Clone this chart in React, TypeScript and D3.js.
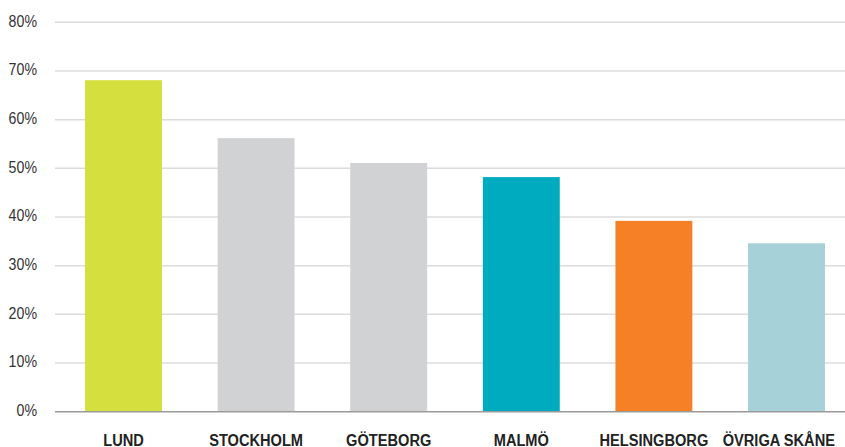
import React from "react";
import * as d3 from "d3";

const categories = ["LUND", "STOCKHOLM", "GÖTEBORG", "MALMÖ", "HELSINGBORG", "ÖVRIGA SKÅNE"];
const values = [68.1, 56.2, 51.1, 48.2, 39.2, 34.6];
const colors = ["#d5df3d", "#d1d2d4", "#d1d2d4", "#00aabf", "#f58026", "#a7d1d8"];
const yTicks = [0, 10, 20, 30, 40, 50, 60, 70, 80];

const W = 845;
const H = 447;

export default function App() {
  const y = d3.scaleLinear().domain([0, 80]).range([411.7, 22.3]);
  const x = d3
    .scaleBand<string>()
    .domain(categories)
    .range([57.2, 57.2 + 132.6 * 6])
    .paddingInner(0.42)
    .paddingOuter(0.21);

  return (
    <svg
      width={W}
      height={H}
      style={{ position: "absolute", left: 0, top: 0, background: "#fff" }}
    >
      {yTicks.map((t) =>
        t === 0 ? null : (
          <line key={"g" + t} x1={55} x2={845} y1={y(t)} y2={y(t)} stroke="#dcdcdc" strokeWidth={1.5} />
        )
      )}
      {categories.map((c, i) => (
        <rect
          key={c}
          x={x(c)}
          y={y(values[i])}
          width={x.bandwidth()}
          height={y(0) - y(values[i])}
          fill={colors[i]}
        />
      ))}
      <line x1={55} x2={845} y1={y(0)} y2={y(0)} stroke="#9a9a9a" strokeWidth={1.5} />
      {yTicks.map((t) => (
        <text
          key={"t" + t}
          transform={`translate(37,${y(t)}) scale(0.86,1)`}
          textAnchor="end"
          dominantBaseline="middle"
          fontFamily="Liberation Sans, Arial, sans-serif"
          fontSize={16.5}
          fill="#333"
        >
          {t}%
        </text>
      ))}
      {categories.map((c, i) => {
        const last = i === categories.length - 1;
        const lx = last
          ? (x(c) as number) + x.bandwidth() + 10
          : (x(c) as number) + x.bandwidth() / 2;
        return (
          <text
            key={"l" + c}
            transform={`translate(${lx},445.5) scale(0.86,1)`}
            textAnchor={last ? "end" : "middle"}
            fontFamily="Liberation Sans, Arial, sans-serif"
            fontWeight="bold"
            fontSize={17}
            fill="#222"
          >
            {c}
          </text>
        );
      })}
    </svg>
  );
}
